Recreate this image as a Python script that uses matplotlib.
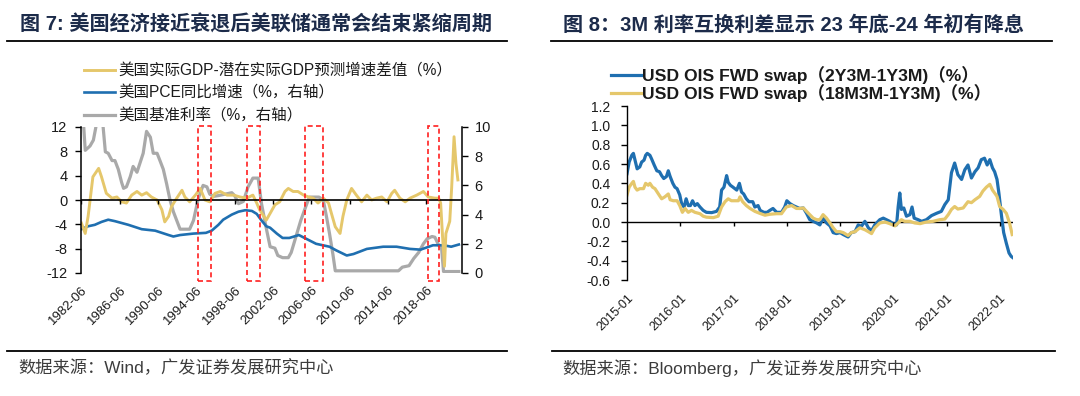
import matplotlib
matplotlib.use('Agg')
import matplotlib.pyplot as plt
from matplotlib.lines import Line2D
from matplotlib.patches import Rectangle
from matplotlib.ticker import FuncFormatter
import matplotlib.transforms as mtrans
import numpy as np

plt.rcParams['font.family'] = ['Liberation Sans', 'Noto Sans CJK SC']
plt.rcParams['axes.unicode_minus'] = False

# ---------------- Left chart data (Figure 7) ----------------
gap_years = [1982.5, 1982.9, 1983.2, 1983.7, 1984.3, 1984.6, 1985.1, 1985.7, 1986.2, 1986.7,
             1987.2, 1987.75, 1988.3, 1988.8, 1989.3, 1989.8, 1990.4, 1990.9, 1991.2, 1991.6,
             1991.9, 1992.45, 1993.0, 1993.3, 1993.8, 1994.4, 1994.9, 1995.4, 1995.9, 1996.45,
             1997.0, 1997.7, 1998.4, 1999.05, 1999.75, 2000.4, 2000.8, 2001.1, 2001.8, 2002.2,
             2002.7, 2003.2, 2003.75, 2004.1, 2004.6, 2005.1, 2005.7, 2006.2, 2006.7, 2007.2,
             2007.75, 2008.3, 2008.6, 2009.0, 2009.5, 2009.8, 2010.2, 2010.7, 2011.2, 2011.75,
             2012.3, 2012.8, 2013.3, 2013.85, 2014.4, 2014.9, 2015.2, 2015.75, 2016.3, 2016.8,
             2017.5, 2018.2, 2018.7, 2019.4, 2019.8, 2020.0, 2020.2, 2020.4, 2020.55, 2020.75,
             2020.95, 2021.15, 2021.4, 2021.6, 2021.8]
gap_values = [-3.8, -5.5, -2.7, 3.8, 5.2, 3.8, 1.1, 0.3, 0.5, -0.3,
              -0.5, 0.8, 1.4, 0.8, 1.2, 0.5, 0.0, -1.6, -3.6, -2.7,
              -1.1, 0.3, 1.6, 0.5, -0.3, 0.8, 1.9, 0.0, -0.3, 1.1,
              1.4, 0.8, 0.8, 0.5, 0.3, 0.8, -0.5, -1.6, -3.3, -2.2,
              -0.8, -0.3, 1.4, 1.9, 1.4, 1.4, 0.8, 0.5, 0.3, -0.5,
              0.3, -0.5, -2.2, -4.4, -5.5, -2.7, 0.0, 1.9, 0.8, -0.3,
              0.8, 0.0, 0.3, 0.5, -0.3, 1.1, 1.6, 0.3, -0.3, 0.3,
              0.8, 1.4, 0.5, 0.3, 0.3, -0.5, -6.0, -10.9, -5.5, -4.5,
              -3.5, 2.0, 10.4, 6.0, 3.3]

pce_years = [1982.5, 1983.2, 1983.9, 1984.6, 1985.3, 1986.0, 1987.4, 1988.8, 1990.2, 1991.6,
             1992.1, 1992.8, 1994.2, 1995.5, 1996.1, 1996.8, 1997.3, 1998.2, 1998.9, 1999.6,
             2000.3, 2000.8, 2001.3, 2001.8, 2002.2, 2002.9, 2003.5, 2004.2, 2005.2, 2005.95,
             2007.0, 2008.4, 2009.1, 2010.2, 2010.9, 2012.3, 2014.0, 2015.4, 2016.8, 2017.9,
             2019.2, 2020.3, 2021.1, 2021.9]
pce_values = [3.0, 3.2, 3.3, 3.5, 3.65, 3.55, 3.3, 3.0, 2.9, 2.6,
              2.5, 2.6, 2.7, 2.75, 2.9, 3.3, 3.65, 4.0, 4.2, 4.3,
              4.25, 4.05, 3.6, 3.2, 3.1, 2.7, 2.4, 2.4, 2.6, 2.35,
              2.0, 1.8, 1.55, 1.2, 1.3, 1.65, 1.8, 1.8, 1.65, 1.6,
              1.9, 1.9, 1.8, 1.95]

ff_years = [1982.5, 1982.9, 1983.4, 1983.75, 1984.1, 1984.4, 1984.7, 1985.0, 1985.3, 1985.7,
            1986.0, 1986.35, 1986.7, 1986.9, 1987.2, 1987.6, 1987.9, 1988.3, 1988.6, 1988.95,
            1989.3, 1989.7, 1990.0, 1990.4, 1990.7, 1991.05, 1991.4, 1991.75, 1992.1, 1992.45,
            1992.8, 1993.8, 1994.2, 1994.7, 1995.2, 1995.6, 1995.9, 1996.3, 1996.8, 1998.2,
            1998.5, 1998.9, 1999.4, 1999.9, 2000.4, 2000.95, 2001.3, 2001.85, 2002.2, 2002.7,
            2003.0, 2003.5, 2004.1, 2004.4, 2004.9, 2005.4, 2005.95, 2006.3, 2007.3, 2007.75,
            2008.1, 2008.4, 2008.75, 2009.0, 2015.6, 2016.0, 2016.7, 2017.2, 2017.7, 2018.2,
            2018.6, 2019.1, 2019.4, 2019.8, 2020.1, 2020.3, 2021.9]
ff_values = [12.5, 8.4, 8.7, 9.1, 10.3, 11.5, 10.5, 8.3, 8.2, 7.7,
             7.7, 7.1, 6.2, 5.8, 5.9, 6.6, 7.3, 6.9, 7.5, 8.2,
             9.7, 9.3, 8.2, 8.2, 7.7, 7.1, 6.1, 5.0, 4.2, 3.6,
             3.0, 3.0, 3.6, 5.1, 6.0, 5.9, 5.4, 5.25, 5.3, 5.5,
             5.3, 4.75, 4.9, 5.9, 6.5, 6.5, 4.75, 2.9, 1.8, 1.7,
             1.2, 1.05, 1.05, 1.4, 2.5, 3.6, 4.6, 5.2, 5.2, 5.0,
             3.8, 2.7, 1.3, 0.15, 0.15, 0.4, 0.5, 1.0, 1.4, 2.0,
             2.35, 2.5, 2.45, 1.9, 1.7, 0.1, 0.1]

left_tick_years = [1982.5, 1986.5, 1990.5, 1994.5, 1998.5, 2002.5, 2006.5, 2010.5, 2014.5, 2018.5]
left_tick_labels = ['1982-06', '1986-06', '1990-06', '1994-06', '1998-06',
                    '2002-06', '2006-06', '2010-06', '2014-06', '2018-06']
tightening_end_periods = [(1994.7, 1996.0), (1999.8, 2001.1), (2005.8, 2007.7), (2018.7, 2019.8)]

# ---------------- Right chart data (Figure 8) ----------------
swap2y_years = [2015.00, 2015.04, 2015.09, 2015.12, 2015.15, 2015.19, 2015.24, 2015.275, 2015.32, 2015.35,
                2015.38, 2015.43, 2015.46, 2015.51, 2015.56, 2015.61, 2015.65, 2015.69, 2015.74, 2015.775,
                2015.81, 2015.86, 2015.90, 2015.94, 2015.99, 2016.025, 2016.07, 2016.11, 2016.15, 2016.19,
                2016.23, 2016.275, 2016.32, 2016.37, 2016.43, 2016.49, 2016.59, 2016.68, 2016.74, 2016.775,
                2016.82, 2016.87, 2016.90, 2016.94, 2016.99, 2017.06, 2017.11, 2017.15, 2017.19, 2017.24,
                2017.29, 2017.36, 2017.40, 2017.46, 2017.50, 2017.57, 2017.63, 2017.68, 2017.74, 2017.81,
                2017.90, 2017.96, 2018.00, 2018.06, 2018.12, 2018.18, 2018.24, 2018.31, 2018.37, 2018.43,
                2018.495, 2018.56, 2018.62, 2018.68, 2018.745, 2018.81, 2018.87, 2018.93, 2019.00, 2019.06,
                2019.15, 2019.21, 2019.28, 2019.34, 2019.40, 2019.465, 2019.53, 2019.59, 2019.65, 2019.745,
                2019.81, 2019.87, 2019.93, 2019.995, 2020.06, 2020.09, 2020.12, 2020.15, 2020.195, 2020.245,
                2020.31, 2020.35, 2020.39, 2020.465, 2020.53, 2020.62, 2020.715, 2020.81, 2020.90, 2020.965,
                2021.03, 2021.09, 2021.15, 2021.21, 2021.28, 2021.34, 2021.40, 2021.465, 2021.53, 2021.59,
                2021.65, 2021.71, 2021.76, 2021.81, 2021.86, 2021.90, 2021.945, 2021.98, 2022.03, 2022.07,
                2022.12, 2022.17, 2022.21, 2022.245]
swap2y_values = [0.50, 0.62, 0.69, 0.71, 0.64, 0.55, 0.57, 0.62, 0.64, 0.69,
                 0.71, 0.69, 0.655, 0.59, 0.53, 0.52, 0.48, 0.45, 0.47, 0.53,
                 0.47, 0.40, 0.36, 0.345, 0.28, 0.19, 0.155, 0.24, 0.17, 0.17,
                 0.22, 0.17, 0.19, 0.155, 0.12, 0.10, 0.097, 0.11, 0.155, 0.33,
                 0.36, 0.48, 0.41, 0.38, 0.36, 0.33, 0.40, 0.31, 0.29, 0.24,
                 0.21, 0.21, 0.155, 0.17, 0.12, 0.10, 0.10, 0.12, 0.14, 0.10,
                 0.10, 0.155, 0.22, 0.19, 0.17, 0.155, 0.14, 0.145, 0.09, 0.024,
                 0.007, -0.01, -0.03, 0.04, -0.01, -0.04, -0.11, -0.12, -0.11, -0.13,
                 -0.155, -0.11, -0.10, -0.03, -0.045, 0.007, -0.06, -0.09, -0.03, 0.024,
                 0.04, 0.024, 0.007, -0.017, -0.03, 0.16, 0.30, 0.13, 0.145, 0.06,
                 0.076, 0.155, 0.04, 0.024, 0.007, 0.024, 0.066, 0.09, 0.11, 0.18,
                 0.23, 0.51, 0.61, 0.49, 0.44, 0.54, 0.59, 0.455, 0.52, 0.56,
                 0.645, 0.66, 0.59, 0.645, 0.56, 0.52, 0.44, 0.30, 0.06, -0.11,
                 -0.22, -0.32, -0.355, -0.37]

swap18m_years = [2015.00, 2015.04, 2015.09, 2015.12, 2015.15, 2015.19, 2015.24, 2015.31, 2015.35, 2015.40,
                 2015.43, 2015.48, 2015.525, 2015.59, 2015.65, 2015.71, 2015.775, 2015.81, 2015.87, 2015.94,
                 2015.99, 2016.04, 2016.09, 2016.15, 2016.21, 2016.275, 2016.37, 2016.43, 2016.49, 2016.62,
                 2016.71, 2016.775, 2016.84, 2016.90, 2016.96, 2017.025, 2017.09, 2017.12, 2017.17, 2017.24,
                 2017.31, 2017.40, 2017.49, 2017.59, 2017.68, 2017.81, 2017.90, 2017.99, 2018.09, 2018.18,
                 2018.24, 2018.31, 2018.37, 2018.43, 2018.495, 2018.56, 2018.62, 2018.68, 2018.745, 2018.81,
                 2018.87, 2018.93, 2019.00, 2019.06, 2019.15, 2019.21, 2019.28, 2019.37, 2019.465, 2019.53,
                 2019.59, 2019.65, 2019.745, 2019.84, 2019.93, 2020.03, 2020.09, 2020.15, 2020.21, 2020.31,
                 2020.40, 2020.50, 2020.62, 2020.745, 2020.87, 2020.965, 2021.03, 2021.09, 2021.15, 2021.21,
                 2021.31, 2021.40, 2021.465, 2021.53, 2021.62, 2021.68, 2021.745, 2021.81, 2021.86, 2021.90,
                 2021.945, 2021.995, 2022.06, 2022.12, 2022.18, 2022.23]
swap18m_values = [0.28, 0.36, 0.40, 0.42, 0.36, 0.33, 0.345, 0.345, 0.40, 0.38,
                  0.40, 0.36, 0.345, 0.29, 0.24, 0.26, 0.29, 0.23, 0.22, 0.22,
                  0.17, 0.10, 0.14, 0.10, 0.12, 0.10, 0.086, 0.06, 0.05, 0.045,
                  0.06, 0.155, 0.21, 0.24, 0.22, 0.22, 0.22, 0.26, 0.21, 0.17,
                  0.14, 0.11, 0.09, 0.07, 0.08, 0.086, 0.086, 0.155, 0.17, 0.14,
                  0.14, 0.145, 0.11, 0.076, 0.04, 0.024, 0.024, 0.076, 0.04, -0.01,
                  -0.06, -0.10, -0.10, -0.11, -0.14, -0.11, -0.10, -0.06, -0.08, -0.10,
                  -0.12, -0.06, -0.01, 0.0, -0.017, -0.04, -0.01, 0.024, 0.007, 0.007,
                  -0.01, -0.017, 0.0, 0.007, 0.024, 0.03, 0.076, 0.13, 0.16, 0.134,
                  0.145, 0.21, 0.20, 0.23, 0.265, 0.32, 0.36, 0.39, 0.33, 0.30,
                  0.265, 0.16, 0.13, 0.09, -0.01, -0.13]

right_tick_years = [2015, 2016, 2017, 2018, 2019, 2020, 2021, 2022]
right_tick_labels = ['2015-01', '2016-01', '2017-01', '2018-01', '2019-01',
                     '2020-01', '2021-01', '2022-01']
right_yticks = [-0.6, -0.4, -0.2, 0.0, 0.2, 0.4, 0.6, 0.8, 1.0, 1.2]

# ---------------- styling ----------------
YELLOW = '#E5C76B'
BLUE = '#1F6FB0'
GRAY = '#A9A9A9'
TITLE_C = '#1C2B4A'
FOOT_C = '#3C3C3C'
TXT = '#1A1A1A'

W, H = 1080, 396
fig = plt.figure(figsize=(10.8, 3.96), dpi=100)


def fx(px):
    return px / W


def fy(py):
    return 1 - py / H


def hrule(x0, x1, y, lw=1.3):
    fig.add_artist(Line2D([fx(x0), fx(x1)], [fy(y), fy(y)], color='black', lw=lw,
                          transform=fig.transFigure))


# ======== Left chart ========
axL = fig.add_axes([fx(81.4), fy(273), fx(462) - fx(81.4), fy(127) - fy(273)])
axR = axL.twinx()
axL.set_zorder(axR.get_zorder() + 1)
axL.patch.set_visible(False)

xl = (1982.5, 2022.23)
axL.set_xlim(*xl)
axL.set_ylim(-12, 12)
axR.set_ylim(0, 10)

l_ff, = axR.plot(ff_years, ff_values, color=GRAY, lw=2.3, solid_joinstyle='round')
l_pce, = axR.plot(pce_years, pce_values, color=BLUE, lw=1.9, solid_joinstyle='round')
l_gap, = axL.plot(gap_years, gap_values, color=YELLOW, lw=2.1, solid_joinstyle='round')

axL.axhline(0, color='black', lw=1.2, zorder=3)
axL.vlines(left_tick_years, -0.6, 0, color='black', lw=1.0, zorder=3)

axL.set_yticks([-12, -8, -4, 0, 4, 8, 12])
axR.set_yticks([0, 2, 4, 6, 8, 10])
axL.set_xticks(left_tick_years)
axL.set_xticklabels(left_tick_labels)
for lab in axL.get_xticklabels():
    lab.set_rotation(45)
    lab.set_ha('right')
    lab.set_va('top')
    lab.set_rotation_mode('anchor')
axL.tick_params(axis='x', length=0, pad=8, labelsize=9.5, labelcolor=TXT)
axL.tick_params(axis='y', direction='out', length=4, width=1, labelsize=10.5, labelcolor=TXT, pad=6)
axR.tick_params(axis='y', direction='out', length=4, width=1, labelsize=10.5, labelcolor=TXT, pad=5)
for s in ['top', 'bottom', 'right']:
    axL.spines[s].set_visible(False)
for s in ['top', 'bottom', 'left']:
    axR.spines[s].set_visible(False)
axL.spines['left'].set_linewidth(1.1)
axR.spines['right'].set_linewidth(1.1)

trL = mtrans.blended_transform_factory(axL.transData, axL.transAxes)
for (a, b) in tightening_end_periods:
    axL.add_patch(Rectangle((a, -0.055), b - a, 1.062, transform=trL, fill=False,
                            ec='#FF2020', lw=1.2, ls=(0, (3, 2)), clip_on=False, zorder=10))

fig.legend([l_gap, l_pce, l_ff],
           ['美国实际GDP-潜在实际GDP预测增速差值（%）', '美国PCE同比增速（%，右轴）', '美国基准利率（%，右轴）'],
           loc='upper left', bbox_to_anchor=(fx(84), fy(63)), frameon=False, fontsize=11.2,
           handlelength=2.0, handletextpad=0.2, labelspacing=0.5, borderpad=0, borderaxespad=0,
           labelcolor=TXT)

fig.text(fx(20), fy(25), '图 7: 美国经济接近衰退后美联储通常会结束紧缩周期', fontsize=14.5,
         fontweight='bold', color=TITLE_C, ha='left', va='center')
hrule(7, 507, 41)
hrule(7, 507, 351)
fig.text(fx(18), fy(368), '数据来源：Wind，广发证券发展研究中心', fontsize=12.4,
         color=FOOT_C, ha='left', va='center')

# ======== Right chart ========
ax3 = fig.add_axes([fx(627), fy(280), fx(1013) - fx(627), fy(106) - fy(280)])
ax3.set_xlim(2015.0, 2022.245)
ax3.set_ylim(-0.6, 1.2)
b_line, = ax3.plot(swap2y_years, swap2y_values, color=BLUE, lw=2.3, solid_joinstyle='round')
y_line, = ax3.plot(swap18m_years, swap18m_values, color=YELLOW, lw=2.3, solid_joinstyle='round')
ax3.axhline(0, color='black', lw=1.0, zorder=1)
ax3.vlines(right_tick_years[1:], -0.04, 0, color='black', lw=1.0)

ax3.set_yticks(right_yticks)
ax3.yaxis.set_major_formatter(FuncFormatter(lambda v, p: '0.0' if abs(v) < 1e-9 else f'{v:.1f}'))
ax3.set_xticks(right_tick_years)
ax3.set_xticklabels(right_tick_labels)
for lab in ax3.get_xticklabels():
    lab.set_rotation(45)
    lab.set_ha('right')
    lab.set_va('top')
    lab.set_rotation_mode('anchor')
ax3.tick_params(axis='x', length=0, pad=9, labelsize=9, labelcolor=TXT)
ax3.tick_params(axis='y', direction='out', length=4, width=1, labelsize=10, labelcolor=TXT, pad=8)
for s in ['top', 'bottom', 'right']:
    ax3.spines[s].set_visible(False)
ax3.spines['left'].set_linewidth(1.0)

fig.legend([b_line, y_line],
           ['USD OIS FWD swap（2Y3M-1Y3M)（%）', 'USD OIS FWD swap（18M3M-1Y3M)（%）'],
           loc='upper left', bbox_to_anchor=(fx(611), fy(66)), frameon=False,
           prop={'size': 12.6, 'weight': 'bold'},
           handlelength=1.7, handletextpad=0.1, labelspacing=0.0, borderpad=0, borderaxespad=0,
           labelcolor=TXT)

fig.text(fx(563), fy(25), '图 8：3M 利率互换利差显示 23 年底-24 年初有降息', fontsize=14.5,
         fontweight='bold', color=TITLE_C, ha='left', va='center')
hrule(551, 1052, 41)
hrule(552, 1055, 351)
fig.text(fx(562), fy(368), '数据来源：Bloomberg，广发证券发展研究中心', fontsize=12.4,
         color=FOOT_C, ha='left', va='center')

fig.savefig('out.png', dpi=100)
